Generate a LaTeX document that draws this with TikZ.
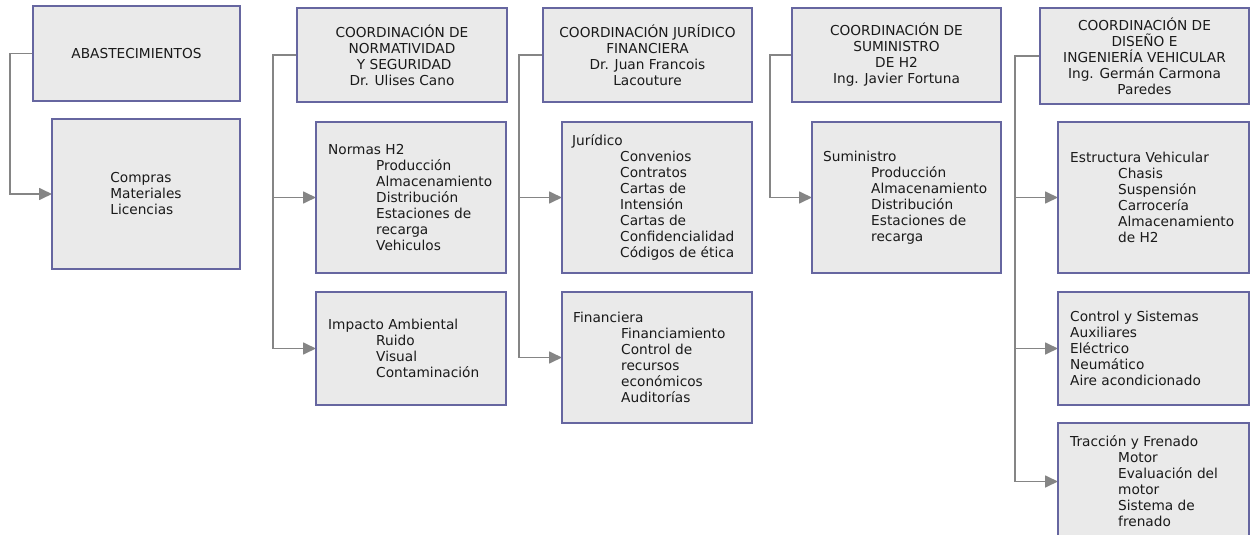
\documentclass[tikz,border=0pt]{standalone}
\usepackage{fontspec}
\setmainfont{DejaVu Sans}
\usetikzlibrary{arrows.meta,backgrounds}
\definecolor{boxfill}{HTML}{EAEAEA}
\definecolor{boxline}{HTML}{6666A0}
\definecolor{connc}{HTML}{858585}
\definecolor{ink}{HTML}{1A1A1A}
\newcommand{\ind}{\hspace*{48pt}}
\begin{document}
\begin{tikzpicture}[x=1pt,y=-1pt,
  box/.style={draw=boxline, line width=2.8pt, fill=boxfill, rectangle, inner sep=0pt, outer sep=0pt},
  head/.style={align=center, inner sep=0pt, text=ink, font=\fontsize{13.7}{16}\selectfont},
  body/.style={align=left, inner sep=0pt, text=ink, anchor=west, font=\fontsize{13.7}{16}\selectfont},
  link/.style={draw=connc, line width=1.7pt, -{Triangle[length=13pt,width=12pt]}},
  plainlink/.style={draw=connc, line width=1.7pt}]
\useasboundingbox (0,0) rectangle (1251,535);
\clip (0,0) rectangle (1251,535);

% column 1
\node[box, minimum width=207pt, minimum height=95pt] (h1) at (136.5,53.5) {};
\node[box, minimum width=188pt, minimum height=150pt] (b1) at (146,194) {};
% column 2
\node[box, minimum width=210pt, minimum height=94pt] (h2) at (402,55) {};
\node[box, minimum width=190pt, minimum height=151pt] (b2a) at (411,197.5) {};
\node[box, minimum width=190pt, minimum height=113pt] (b2b) at (411,348.5) {};
% column 3
\node[box, minimum width=209pt, minimum height=94pt] (h3) at (647.5,55) {};
\node[box, minimum width=190pt, minimum height=151pt] (b3a) at (657,197.5) {};
\node[box, minimum width=190pt, minimum height=131pt] (b3b) at (657,357.5) {};
% column 4
\node[box, minimum width=209pt, minimum height=94pt] (h4) at (896.5,55) {};
\node[box, minimum width=189pt, minimum height=151pt] (b4a) at (906.5,197.5) {};
% column 5
\node[box, minimum width=209pt, minimum height=96pt] (h5) at (1144.5,56) {};
\node[box, minimum width=191pt, minimum height=151pt] (b5a) at (1153.5,197.5) {};
\node[box, minimum width=191pt, minimum height=113pt] (b5b) at (1153.5,348.5) {};
\node[box, minimum width=191pt, minimum height=117pt] (b5c) at (1153.5,481.5) {};

% texts
\node[head] (th1) at (h1.center) {ABASTECIMIENTOS};
\node[head, align=left] (tb1) at (b1.center) {Compras\\Materiales\\Licencias};

\node[head] (th2) at (h2.center) {COORDINACIÓN DE\\NORMATIVIDAD\\\ Y SEGURIDAD\\Dr. Ulises Cano};
\node[body] (tb2a) at ([xshift=12pt]b2a.west) {Normas H2\\\ind Producción\\\ind Almacenamiento\\\ind Distribución\\\ind Estaciones de\\\ind recarga\\\ind Vehiculos};
\node[body] (tb2b) at ([xshift=12pt]b2b.west) {Impacto Ambiental\\\ind Ruido\\\ind Visual\\\ind Contaminación};

\node[head] (th3) at (h3.center) {COORDINACIÓN JURÍDICO\\FINANCIERA\\Dr. Juan Francois\\Lacouture};
\node[body] (tb3a) at ([xshift=10pt]b3a.west) {Jurídico\\\ind Convenios\\\ind Contratos\\\ind Cartas de\\\ind Intensión\\\ind Cartas de\\\ind Confidencialidad\\\ind Códigos de ética};
\node[body] (tb3b) at ([xshift=11pt]b3b.west) {Financiera\\\ind Financiamiento\\\ind Control de\\\ind recursos\\\ind económicos\\\ind Auditorías};

\node[head] (th4) at (h4.center) {COORDINACIÓN DE\\SUMINISTRO\\DE H2\\Ing. Javier Fortuna};
\node[body] (tb4a) at ([xshift=11pt]b4a.west) {Suministro\\\ind Producción\\\ind Almacenamiento\\\ind Distribución\\\ind Estaciones de\\\ind recarga};

\node[head] (th5) at (h5.center) {COORDINACIÓN DE\\DISEÑO E\\INGENIERÍA VEHICULAR\\Ing. Germán Carmona\\Paredes};
\node[body] (tb5a) at ([xshift=12pt]b5a.west) {Estructura Vehicular\\\ind Chasis\\\ind Suspensión\\\ind Carrocería\\\ind Almacenamiento\\\ind de H2};
\node[body] (tb5b) at ([xshift=12pt]b5b.west) {Control y Sistemas\\Auxiliares\\Eléctrico\\Neumático\\Aire acondicionado};
\node[body] (tb5c) at ([xshift=12pt]b5c.west) {Tracción y Frenado\\\ind Motor\\\ind Evaluación del\\\ind motor\\\ind Sistema de\\\ind frenado};

% connectors
\coordinate (v1) at (10,0);
\coordinate (v2) at (273,0);
\coordinate (v3) at (519,0);
\coordinate (v4) at (770,0);
\coordinate (v5) at (1015,0);
\begin{scope}[on background layer]
\draw[link] (h1.west) -| (v1 |- b1.west) -- (b1.west);
\draw[link] (h2.west) -| (v2 |- b2b.west) -- (b2b.west);
\draw[link] (v2 |- b2a.west) -- (b2a.west);
\draw[link] (h3.west) -| (v3 |- b3b.west) -- (b3b.west);
\draw[link] (v3 |- b3a.west) -- (b3a.west);
\draw[link] (h4.west) -| (v4 |- b4a.west) -- (b4a.west);
\draw[link] (h5.west) -| (v5 |- b5c.west) -- (b5c.west);
\draw[link] (v5 |- b5a.west) -- (b5a.west);
\draw[link] (v5 |- b5b.west) -- (b5b.west);
\end{scope}
\end{tikzpicture}
\end{document}
